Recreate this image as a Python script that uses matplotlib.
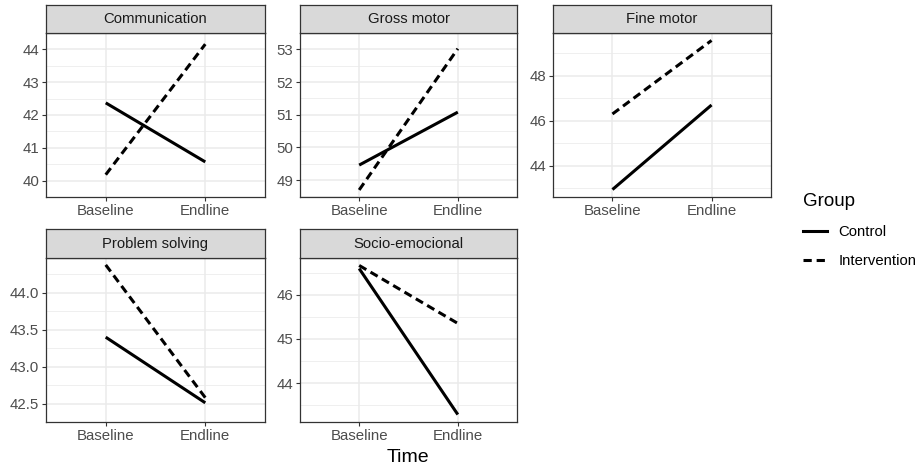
import numpy as np
import matplotlib
matplotlib.use("Agg")
import matplotlib.pyplot as plt
from matplotlib.lines import Line2D
from matplotlib.ticker import FormatStrFormatter

# data
times = ["Baseline", "Endline"]
domains = ["Communication", "Gross motor", "Fine motor", "Problem solving", "Socio-emocional"]
control = {
    "Communication": [42.37, 40.57],
    "Gross motor": [49.46, 51.08],
    "Fine motor": [42.95, 46.71],
    "Problem solving": [43.40, 42.51],
    "Socio-emocional": [46.59, 43.29],
}
intervention = {
    "Communication": [40.18, 44.16],
    "Gross motor": [48.70, 53.02],
    "Fine motor": [46.31, 49.58],
    "Problem solving": [44.38, 42.58],
    "Socio-emocional": [46.66, 45.35],
}
yticks = {
    "Communication": [40, 41, 42, 43, 44],
    "Gross motor": [49, 50, 51, 52, 53],
    "Fine motor": [44, 46, 48],
    "Problem solving": [42.5, 43.0, 43.5, 44.0],
    "Socio-emocional": [44, 45, 46],
}

W, H = 923, 468
fig = plt.figure(figsize=(W / 100, H / 100), dpi=100)
plt.rcParams['font.family'] = ['Liberation Sans', 'DejaVu Sans']

cols = [(46, 265), (300, 517), (553, 771)]
rows = [(5, 33, 197), (229, 258, 422)]
grid_col = "#EBEBEB"
border = "#333333"
dash = (2.7, 1.6)

x = np.arange(1, len(times) + 1)

for i, name in enumerate(domains):
    r, c = divmod(i, 3)
    x0, x1 = cols[c]
    s0, p0, p1 = rows[r]
    ax = fig.add_axes([x0 / W, 1 - p1 / H, (x1 - x0) / W, (p1 - p0) / H])
    st = fig.add_axes([x0 / W, 1 - p0 / H, (x1 - x0) / W, (p0 - s0) / H])

    ax.plot(x, control[name], color="black", lw=2.2, solid_capstyle="butt", zorder=3)
    ax.plot(x, intervention[name], color="black", lw=2.2, dashes=dash,
            dash_capstyle="butt", zorder=3)

    vals = control[name] + intervention[name]
    lo, hi = min(vals), max(vals)
    pad = (hi - lo) * 0.05
    ax.set_ylim(lo - pad, hi + pad)
    ax.set_xlim(0.4, 2.6)

    t = yticks[name]
    step = t[1] - t[0]
    ax.set_yticks(t)
    minor = np.arange(t[0] - step / 2, t[-1] + step, step)
    ax.set_yticks(minor, minor=True)
    if name == "Problem solving":
        ax.yaxis.set_major_formatter(FormatStrFormatter("%.1f"))
    ax.set_xticks(x)
    ax.set_xticklabels(times)

    ax.grid(True, which="major", color=grid_col, lw=1.1, zorder=0)
    ax.grid(True, which="minor", axis="y", color=grid_col, lw=0.55, zorder=0)
    ax.set_axisbelow(True)
    ax.tick_params(which="minor", length=0)
    ax.tick_params(which="major", length=3, color=border, labelcolor="#4D4D4D",
                   labelsize=10.8, pad=2)
    for sp in ax.spines.values():
        sp.set_color(border)
        sp.set_linewidth(0.9)

    st.set_facecolor("#D9D9D9")
    st.set_xticks([])
    st.set_yticks([])
    for sp in st.spines.values():
        sp.set_color(border)
        sp.set_linewidth(0.9)
    st.text(0.5, 0.5, name, ha="center", va="center", fontsize=10.7,
            color="#1A1A1A", transform=st.transAxes)

fig.text(408 / W, 1 - 457 / H, "Time", ha="center", va="center", fontsize=14)

handles = [Line2D([], [], color="black", lw=2.2),
           Line2D([], [], color="black", lw=2.2, dashes=dash)]
leg = fig.legend(handles, ["Control", "Intervention"], title="Group",
                 loc="upper left", bbox_to_anchor=(790 / W, 1 - 180 / H),
                 frameon=False, fontsize=10.7, title_fontsize=13.5,
                 handlelength=1.6, handletextpad=0.75, labelspacing=1.0)
leg._legend_box.align = "left"

fig.savefig("out.png", dpi=100)
